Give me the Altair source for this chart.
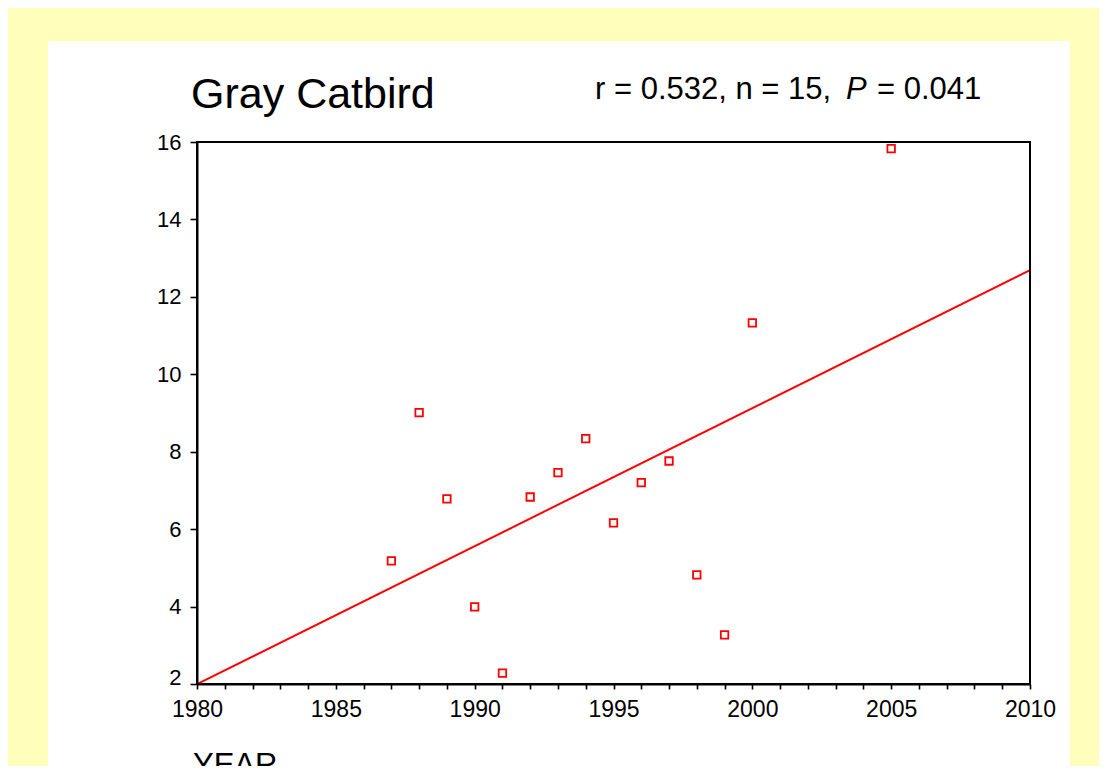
import altair as alt
import pandas as pd

# ---- data ----
years = [1987, 1988, 1989, 1990, 1991, 1992, 1993, 1994, 1995, 1996, 1997, 1998, 1999, 2000, 2005]
values = [5.18, 9.01, 6.78, 3.99, 2.28, 6.83, 7.46, 8.34, 6.16, 7.20, 7.76, 4.82, 3.27, 11.33, 15.83]
x_ticks = list(range(1980, 2011))
y_ticks = [2, 4, 6, 8, 10, 12, 14, 16]
title_text = ["Gray Catbird"]
stat_left = ["r = 0.532, n = 15,"]
stat_p = ["P"]
stat_right = ["= 0.041"]
x_title = ["YEAR"]

df = pd.DataFrame({"year": years, "value": values})

FONT = "Liberation Sans"
RED = "#FF0000"
W, H = 833, 542

xscale = alt.Scale(domain=[1980, 2010], nice=False, zero=False)
yscale = alt.Scale(domain=[2, 16], nice=False, zero=False)

xaxis = alt.Axis(
    values=x_ticks, format="d",
    labelExpr="datum.value % 5 === 0 ? datum.label : ''",
    labelOverlap=False, labelFlush=False, grid=False, title=None,
    domainColor="black", domainWidth=2, tickColor="black", tickWidth=1.6,
    tickSize=5, labelFont=FONT, labelFontSize=23, labelColor="black",
    labelPadding=9, zindex=1,
)
yaxis = alt.Axis(
    values=y_ticks, format="d", grid=False, title=None,
    labelOverlap=False, labelFlush=False,
    domainColor="black", domainWidth=2, tickColor="black", tickWidth=1.6,
    tickSize=7, labelFont=FONT, labelFontSize=22, labelColor="black",
    labelPadding=9, zindex=1,
    labelBaseline={"condition": {"test": "datum.value === 2", "value": "alphabetic"}, "value": "middle"},
)

one = pd.DataFrame({"k": [0]})

panel = alt.Chart(one).mark_rect(color="white").encode(
    x=alt.value(-149), x2=alt.value(873), y=alt.value(-101), y2=alt.value(700)
)

points = alt.Chart(df).mark_square(filled=False, color=RED, strokeWidth=1.8, size=56, opacity=1).encode(
    x=alt.X("year:Q", scale=xscale, axis=xaxis),
    y=alt.Y("value:Q", scale=yscale, axis=yaxis),
)

line = alt.Chart(df).transform_regression(
    "year", "value", extent=[1980, 2010]
).mark_line(color=RED, strokeWidth=2).encode(
    x=alt.X("year:Q", scale=xscale, axis=xaxis),
    y=alt.Y("value:Q", scale=yscale, axis=yaxis),
)

border = alt.Chart(one).mark_rect(filled=False, stroke="black", strokeWidth=2).encode(
    x=alt.value(0), x2=alt.value("width"), y=alt.value(0), y2=alt.value("height")
)

def label(texts, x, y, size, style="normal"):
    return alt.Chart(pd.DataFrame({"t": texts})).mark_text(
        align="left", baseline="alphabetic", font=FONT, fontSize=size,
        fontStyle=style, color="black"
    ).encode(x=alt.value(x), y=alt.value(y), text="t:N")

title = label(title_text, -6, -34, 43)
s1 = label(stat_left, 398, -43, 31)
s2 = label(stat_p, 649, -43, 31, "italic")
s3 = label(stat_right, 680, -43, 31)
xt = label(x_title, -4, 633, 31)

chart = alt.layer(panel, line, points, border, title, s1, s2, s3, xt).properties(
    width=W, height=H,
    autosize=alt.AutoSizeParams(type="none"),
    padding={"left": 189, "top": 134, "right": 69, "bottom": 82},
    background="#FFFFBB",
).configure_view(strokeWidth=0)

chart.save("out.html", embed_options={"renderer": "svg", "actions": False})
